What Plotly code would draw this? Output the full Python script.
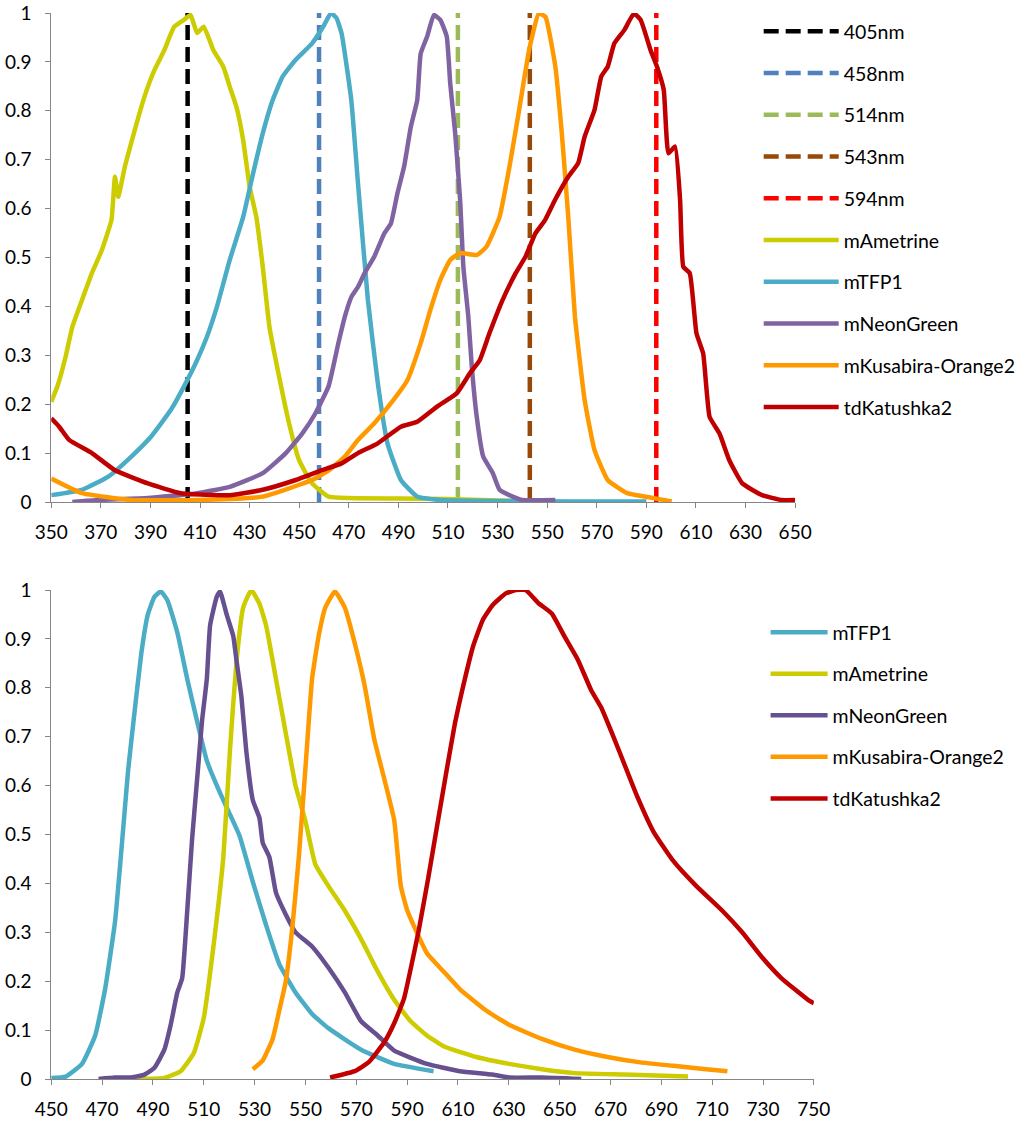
import plotly.graph_objects as go

# ---------------- Top chart: excitation spectra + laser lines ----------------
laser_names = ["405nm", "458nm", "514nm", "543nm", "594nm"]
laser_nm = [405, 458, 514, 543, 594]
laser_colors = ["#000000", "#4F81BD", "#9BBB59", "#984807", "#FF0000"]

ex_ametrine_x = [350, 352.4, 355.8, 358.5, 362.4, 366.4, 370.4, 374.3, 375.7, 377, 379.7, 383.7, 387.6,
                 391.6, 395.6, 399.6, 403.5, 406.2, 408.8, 411.5, 415.4, 419.4, 422, 424.7, 427.4, 430,
                 432.7, 435.3, 438, 441.9, 445.9, 449.9, 455.2, 461.8, 470, 490, 510, 530, 545]
ex_ametrine_y = [0.205, 0.235, 0.297, 0.358, 0.413, 0.468, 0.515, 0.577, 0.665, 0.624, 0.686, 0.761, 0.829,
                 0.883, 0.924, 0.972, 0.986, 0.996, 0.959, 0.972, 0.924, 0.890, 0.849, 0.808, 0.740, 0.645,
                 0.583, 0.481, 0.358, 0.256, 0.161, 0.086, 0.038, 0.011, 0.008, 0.007, 0.006, 0.003, 0.001]

ex_tfp1_x = [350, 362.4, 373, 382.3, 390.3, 398.2, 403.5, 408.8, 412.8, 416.8, 422, 427.4, 431.4, 435.3,
             439.3, 443.3, 448.5, 455.2, 460, 462.8, 465, 467.1, 471, 473.7, 477.7, 481.7, 485.6, 491,
             497.6, 506.9, 530, 560, 590]
ex_tfp1_y = [0.014, 0.025, 0.052, 0.093, 0.134, 0.188, 0.236, 0.290, 0.338, 0.399, 0.495, 0.583, 0.672, 0.754,
             0.822, 0.870, 0.904, 0.938, 0.975, 1.0, 0.99, 0.958, 0.822, 0.652, 0.413, 0.243, 0.120, 0.045,
             0.011, 0.004, 0.002, 0.001, 0.001]

ex_neon_x = [358.5, 369, 389, 408.8, 422, 435.3, 444.6, 451.2, 456.5, 461.8, 465.8, 468.4, 471.1, 473.7,
             476.4, 480.3, 484.3, 487, 489.6, 492.3, 495, 497.6, 499, 501.6, 504.3, 506.9, 509.5, 510.9,
             512.9, 514.9, 516.2, 518.2, 519.6, 521.6, 524.2, 528.1, 530.8, 536.1, 540, 553.3]
ex_neon_y = [0.0, 0.004, 0.008, 0.018, 0.031, 0.059, 0.1, 0.14, 0.181, 0.236, 0.325, 0.379, 0.42, 0.44,
             0.468, 0.502, 0.549, 0.57, 0.631, 0.686, 0.767, 0.822, 0.917, 0.952, 0.996, 0.986, 0.952, 0.856,
             0.754, 0.617, 0.481, 0.379, 0.277, 0.174, 0.093, 0.059, 0.025, 0.011, 0.004, 0.004]

ex_ko2_x = [350, 362.4, 382.3, 408.8, 435.3, 455.2, 462, 468.4, 473.7, 480.3, 487, 493.6, 499, 502.9,
            506.9, 510.9, 514.9, 521.6, 525.5, 530.8, 534.8, 538.7, 542.7, 546.6, 549.3, 553.3, 555.9,
            558.5, 561.2, 565.1, 569.1, 574.4, 582.3, 592.9, 600.2]
ex_ko2_y = [0.048, 0.018, 0.004, 0.004, 0.011, 0.045, 0.065, 0.093, 0.127, 0.161, 0.202, 0.249, 0.325, 0.393,
            0.454, 0.495, 0.509, 0.505, 0.522, 0.583, 0.686, 0.802, 0.924, 0.999, 0.992, 0.890, 0.754,
            0.583, 0.379, 0.209, 0.106, 0.045, 0.018, 0.008, 0.001]

ex_kat_x = [350, 353.2, 357.2, 366.4, 375.7, 389, 402.2, 422, 435.3, 448.6, 459.2, 467.1, 473.7, 481.7,
            491, 497.6, 505.6, 513.5, 518.8, 522.8, 526.7, 532, 537.3, 541.3, 545.2, 549.2, 553.2, 558.5,
            562.5, 565.1, 569.1, 571.8, 574.4, 577.1, 581.1, 585, 587.7, 591.7, 594.3, 597, 598.9, 601.6,
            603.6, 604.9, 607.5, 610.2, 612.9, 615.5, 619.5, 623.4, 628.7, 636.7, 644.6, 650]
ex_kat_y = [0.171, 0.154, 0.127, 0.1, 0.065, 0.038, 0.018, 0.014, 0.025, 0.045, 0.065, 0.079, 0.1, 0.12,
            0.154, 0.164, 0.195, 0.222, 0.263, 0.29, 0.345, 0.413, 0.468, 0.502, 0.549, 0.577, 0.618, 0.665,
            0.693, 0.747, 0.802, 0.870, 0.890, 0.938, 0.965, 0.999, 0.986, 0.924, 0.89, 0.843, 0.713, 0.727,
            0.618, 0.481, 0.468, 0.345, 0.304, 0.174, 0.140, 0.086, 0.038, 0.014, 0.004, 0.004]

# ---------------- Bottom chart: emission spectra ----------------
em_tfp1_x = [450, 455.7, 462.1, 467.3, 471.2, 475.1, 477.6, 480.2, 482.2, 485.4, 488, 490.6, 493.1, 495.7,
             499.6, 503.5, 507.4, 511.2, 516.4, 520.3, 524.1, 529.3, 534.5, 539.7, 546.1, 552.6, 559,
             571.9, 584.9, 600.4]
em_tfp1_y = [0.002, 0.005, 0.031, 0.089, 0.184, 0.322, 0.468, 0.629, 0.724, 0.869, 0.95, 0.986, 0.997, 0.979,
             0.913, 0.818, 0.731, 0.651, 0.585, 0.541, 0.497, 0.403, 0.315, 0.235, 0.177, 0.133, 0.104,
             0.06, 0.031, 0.016]

em_ametrine_x = [484.1, 494.5, 500.9, 506.1, 510, 513.8, 517.7, 520.3, 522.9, 525.5, 528.7, 531.9, 534.5,
                 538.4, 542.2, 546.1, 550, 553.9, 559, 565.5, 571.9, 578.4, 584.9, 591.4, 597.8, 604.3,
                 617.2, 630.1, 643, 655.9, 675.3, 700.5]
em_ametrine_y = [0.0, 0.002, 0.016, 0.053, 0.125, 0.271, 0.454, 0.672, 0.855, 0.964, 1.0, 0.972, 0.928,
                 0.818, 0.709, 0.6, 0.527, 0.439, 0.395, 0.344, 0.286, 0.22, 0.162, 0.118, 0.089, 0.067,
                 0.045, 0.031, 0.02, 0.012, 0.009, 0.005]

em_neon_x = [468.6, 475.1, 481.5, 486.7, 490.6, 494.5, 497, 499.6, 501.5, 503.5, 505.4, 507.4, 509.3, 511.2,
             512.5, 515.1, 516.4, 519, 521.6, 522.9, 524.8, 526.7, 529.3, 531.9, 533.2, 535.8, 538.4,
             542.2, 546.1, 552.6, 559, 565.5, 571.9, 578.4, 584.9, 597.8, 610.7, 623.6, 630.1, 643, 658.5]
em_neon_y = [0.0, 0.003, 0.003, 0.009, 0.023, 0.06, 0.111, 0.177, 0.206, 0.344, 0.49, 0.614, 0.731, 0.818,
             0.928, 0.986, 0.997, 0.95, 0.906, 0.855, 0.782, 0.672, 0.57, 0.534, 0.483, 0.454, 0.381,
             0.337, 0.3, 0.271, 0.228, 0.177, 0.118, 0.089, 0.058, 0.031, 0.016, 0.009, 0.003, 0.003, 0.0]

em_ko2_x = [529.3, 533.2, 537.1, 539.7, 542.2, 544.8, 547.4, 550, 552.6, 555.2, 557.8, 561.6, 565.5, 569.4,
            573.3, 577.1, 581, 584.9, 587.5, 590.1, 597.8, 604.3, 610.7, 621.1, 630.1, 643, 655.9, 668.8,
            681.8, 694.7, 707.6, 716]
em_ko2_y = [0.02, 0.038, 0.082, 0.14, 0.198, 0.308, 0.454, 0.636, 0.818, 0.906, 0.964, 0.997, 0.964, 0.891,
            0.804, 0.694, 0.614, 0.53, 0.395, 0.344, 0.257, 0.22, 0.184, 0.14, 0.111, 0.082, 0.06, 0.045,
            0.034, 0.027, 0.02, 0.016]

em_kat_x = [559.7, 569.4, 575, 581, 585, 588.8, 592, 594.6, 598.4, 601.7, 605.5, 608.8, 611.4, 615.9, 619.8,
            623.6, 628.8, 632.7, 636.6, 641.7, 646.9, 652, 657.2, 662.4, 666.3, 672.7, 680.5, 687, 694.7,
            703.7, 714, 721.8, 729.6, 737.3, 747.7, 750]
em_kat_y = [0.003, 0.016, 0.035, 0.075, 0.115, 0.165, 0.24, 0.305, 0.414, 0.515, 0.63, 0.727, 0.789, 0.884,
            0.939, 0.969, 0.993, 1.0, 1.0, 0.973, 0.952, 0.904, 0.857, 0.795, 0.76, 0.68, 0.578, 0.505,
            0.446, 0.395, 0.344, 0.3, 0.249, 0.206, 0.162, 0.155]

top_x_ticks = list(range(350, 651, 20))
bottom_x_ticks = list(range(450, 751, 20))

C_AMETRINE = "#CCCC00"
C_TFP1 = "#4BACC6"
C_NEON_TOP = "#8064A2"
C_NEON_BOTTOM = "#675090"
C_KO2 = "#FF9900"
C_KAT = "#C00000"

FONT = "Lato"
LW = 4.5

fig = go.Figure()

for name, nm, col in zip(laser_names, laser_nm, laser_colors):
    fig.add_trace(go.Scatter(x=[nm, nm], y=[0, 1], mode="lines", name=name,
                             line=dict(color=col, width=LW, dash="15px,7px"),
                             xaxis="x", yaxis="y", legend="legend", legendgroup=name))

top_series = [
    ("mAmetrine", ex_ametrine_x, ex_ametrine_y, C_AMETRINE),
    ("mTFP1", ex_tfp1_x, ex_tfp1_y, C_TFP1),
    ("mNeonGreen", ex_neon_x, ex_neon_y, C_NEON_TOP),
    ("mKusabira-Orange2", ex_ko2_x, ex_ko2_y, C_KO2),
    ("tdKatushka2", ex_kat_x, ex_kat_y, C_KAT),
]
for name, xs, ys, col in top_series:
    fig.add_trace(go.Scatter(x=xs, y=ys, mode="lines", name=name,
                             line=dict(color=col, width=LW, shape="spline", smoothing=0.4),
                             xaxis="x", yaxis="y", legend="legend", legendgroup="top_" + name))

bottom_series = [
    ("mTFP1", em_tfp1_x, em_tfp1_y, C_TFP1),
    ("mAmetrine", em_ametrine_x, em_ametrine_y, C_AMETRINE),
    ("mNeonGreen", em_neon_x, em_neon_y, C_NEON_BOTTOM),
    ("mKusabira-Orange2", em_ko2_x, em_ko2_y, C_KO2),
    ("tdKatushka2", em_kat_x, em_kat_y, C_KAT),
]
for name, xs, ys, col in bottom_series:
    fig.add_trace(go.Scatter(x=xs, y=ys, mode="lines", name=name,
                             line=dict(color=col, width=LW, shape="spline", smoothing=0.4),
                             xaxis="x2", yaxis="y2", legend="legend2", legendgroup="bot_" + name))

W, H = 1021, 1130


def px_x(p):
    return p / W


def px_y(p):
    return 1 - p / H


axis_common = dict(showgrid=False, zeroline=False, showline=True, linecolor="#868686", linewidth=1,
                   ticks="outside", ticklen=5, tickcolor="#868686", tickwidth=1, automargin=False,
                   tickfont=dict(family=FONT, size=19, color="#000000"))

fig.update_layout(
    width=W, height=H,
    margin=dict(l=0, r=0, t=0, b=0),
    paper_bgcolor="white", plot_bgcolor="white",
    font=dict(family=FONT, size=19, color="#000000"),
    xaxis=dict(domain=[px_x(52), px_x(807)], range=[350, 650], tickvals=top_x_ticks,
               anchor="y", ticklabelstandoff=8, **axis_common),
    yaxis=dict(domain=[px_y(502), px_y(13)], range=[0, 1], dtick=0.1, tick0=0,
               anchor="x", ticklabelstandoff=10, **axis_common),
    xaxis2=dict(domain=[px_x(52), px_x(826)], range=[450, 750], tickvals=bottom_x_ticks,
                anchor="y2", ticklabelstandoff=8, **axis_common),
    yaxis2=dict(domain=[px_y(1079), px_y(590)], range=[0, 1], dtick=0.1, tick0=0,
                anchor="x2", ticklabelstandoff=10, **axis_common),
    legend=dict(x=px_x(770), xanchor="left", y=px_y(12), yanchor="top",
                bgcolor="rgba(0,0,0,0)", borderwidth=0, itemwidth=75,
                tracegroupgap=13.4, font=dict(family=FONT, size=19.5, color="#000000")),
    legend2=dict(x=px_x(777), xanchor="left", y=px_y(613), yanchor="top",
                 bgcolor="rgba(0,0,0,0)", borderwidth=0, itemwidth=57,
                 tracegroupgap=13.2, font=dict(family=FONT, size=19.5, color="#000000")),
    showlegend=True,
)

fig.write_html("out.html")
